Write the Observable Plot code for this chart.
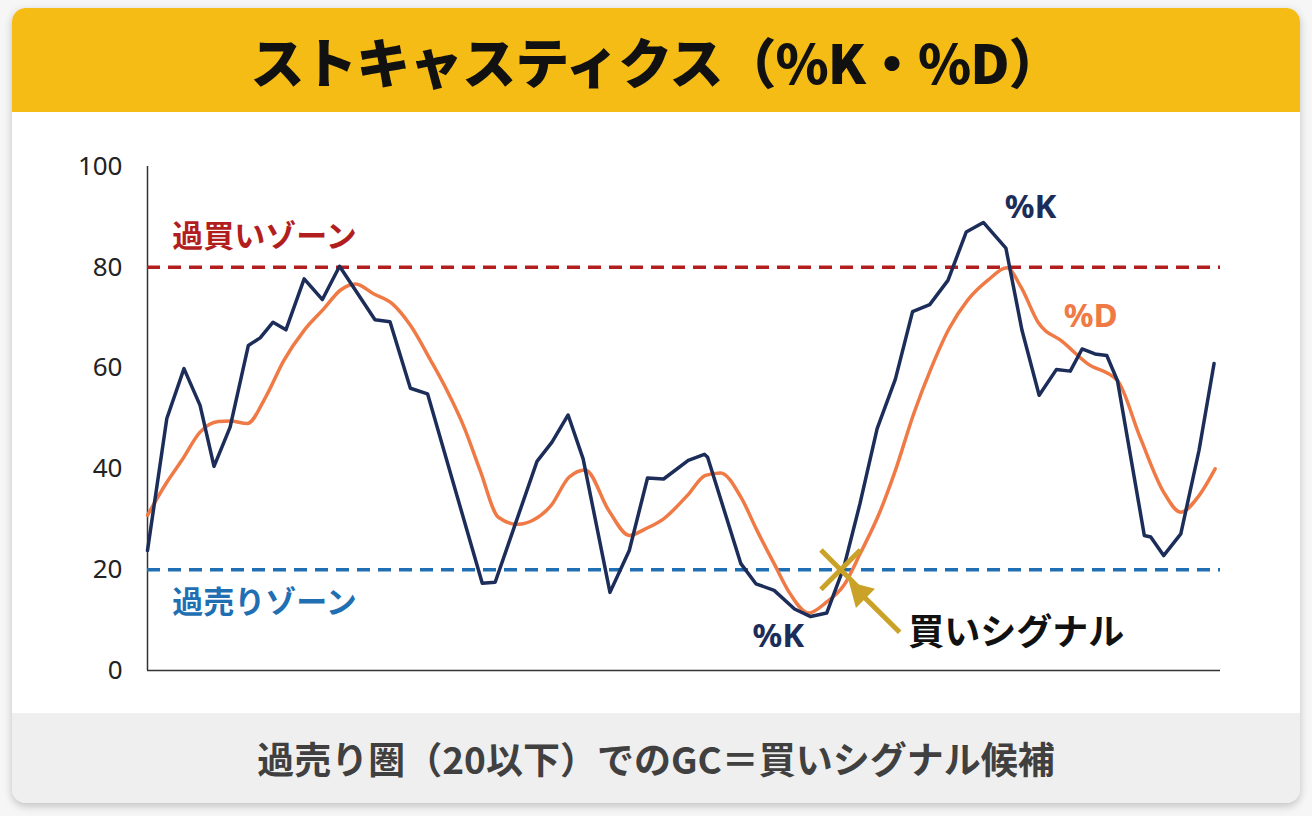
<!DOCTYPE html>
<html lang="ja">
<head>
<meta charset="utf-8">
<script src="https://cdn.jsdelivr.net/npm/d3@7"></script>
<script src="https://cdn.jsdelivr.net/npm/@observablehq/plot@0.6"></script>
<style>
  html, body { margin: 0; padding: 0; background: #f6f6f6; }
  body { width: 1312px; height: 816px; position: relative; overflow: hidden; font-family: "Noto Sans CJK JP", "Noto Sans", sans-serif; }
  .card {
    position: absolute; left: 12px; top: 8px; width: 1288px; height: 795px;
    background: #ffffff; border-radius: 14px; overflow: hidden;
    box-shadow: 0 3px 8px rgba(0,0,0,0.22);
  }
  .title {
    position: absolute; left: 0; top: 0; width: 100%; height: 104px;
    background: #F5BC16; display: flex; align-items: center; justify-content: center;
    font-size: 54px; font-weight: 900; color: #111; letter-spacing: -1px;
  }
  .footer {
    position: absolute; left: 0; top: 705px; width: 100%; height: 90px;
    background: #efefef; display: flex; align-items: center; justify-content: center;
    font-size: 37px; font-weight: 700; color: #404040;
  }
  #chart { position: absolute; left: 0; top: 104px; }
</style>
</head>
<body>
<div class="card">
  <div class="title">ストキャスティクス（%K・%D）</div>
  <div id="chart"></div>
  <div class="footer">過売り圏（20以下）でのGC＝買いシグナル候補</div>
</div>
<script>
// %K (fast line): time position and value
const kTime = [0, 1.8, 3.4, 4.9, 6.2, 7.7, 9.4, 10.5, 11.7, 12.9, 14.6, 16.3, 17.9,
  21.2, 22.6, 24.5, 26.1, 31.2, 32.4, 36.3, 37.7, 39.2, 40.6, 43.1, 44.9, 46.6, 48.1,
  50.4, 51.9, 52.2, 55.3, 56.7, 58.4, 60.3, 61.8, 63.3, 64.9, 66.4, 68.0, 69.7, 71.3,
  72.9, 74.6, 76.3, 77.9, 80.0, 81.5, 83.1, 84.7, 86.0, 87.1, 88.3, 89.4, 90.4, 92.9,
  93.5, 94.7, 96.3, 98.0, 99.4];
const kValue = [23.8, 50, 59.9, 52.6, 40.5, 48.3, 64.5, 66, 69.1, 67.6, 77.7, 73.6, 80.2,
  69.6, 69.2, 56, 54.9, 17.3, 17.5, 41.5, 45.3, 50.7, 42, 15.5, 23.8, 38.2, 38,
  41.7, 42.9, 42.3, 21.2, 17.2, 15.9, 12.2, 10.7, 11.4, 20.5, 33.1, 48, 57.8, 71.2,
  72.6, 77.4, 87, 88.9, 83.8, 67.5, 54.6, 59.7, 59.4, 63.8, 62.8, 62.5, 57.5, 26.8,
  26.5, 22.8, 27.1, 43.7, 60.9];

// %D (slow line): time position and value
const dTime = [0, 1.7, 3.2, 4.9, 6.6, 7.7, 9.3, 11.0, 12.7, 14.6, 16.4, 18.0, 19.4,
  21.1, 22.8, 24.5, 26.4, 27.9, 29.5, 31.0, 32.7, 34.5, 36.0, 37.6, 39.3, 40.8, 43.0,
  44.9, 46.4, 48.1, 50.3, 52.0, 53.4, 55.3, 56.8, 58.4, 59.9, 61.6, 63.3, 64.9, 66.4,
  68.3, 69.7, 71.4, 73.0, 74.7, 76.4, 78.3, 80.1, 81.4, 83.0, 85.3, 87.6, 90.4, 92.5,
  94.7, 96.3, 98.0, 99.5];
const dValue = [30.8, 37, 41.7, 47.3, 49.4, 49.5, 49, 54.2, 61.5, 67.5, 71.7, 75.5, 76.7,
  74.7, 72.8, 68.5, 61.5, 55.6, 48.3, 39.7, 30.4, 29, 29.9, 32.7, 38.4, 39.8, 31.7,
  26.8, 28.1, 30.1, 34.7, 38.7, 39.2, 34.4, 27.8, 21.2, 15.2, 11.4, 13.6, 16.9, 23.1,
  31.7, 39.7, 50.9, 59.8, 67.8, 73.4, 77.4, 79.9, 76.1, 69.1, 65.2, 60.9, 57.5, 46.3,
  35.4, 31.4, 34.7, 40];

const yTicks = [0, 20, 40, 60, 80, 100];
const overbought = 80;
const oversold = 20;
const zoneNames = ["過買いゾーン", "過売りゾーン"];
const signalName = "買いシグナル";
const signalPoint = { t: 64.6, v: 20 };

const NAVY = "#1c2d5a";
const ORANGE = "#ef7a45";
const RED = "#b21e1e";
const BLUE = "#1f6fb2";
const GOLD = "#c9a227";

const kData = kTime.map((t, i) => ({ t, v: kValue[i] }));
const dData = dTime.map((t, i) => ({ t, v: dValue[i] }));

const zoneLabels = [
  { t: 2.3, v: 85.9, label: zoneNames[0], color: RED },
  { t: 2.3, v: 13.3, label: zoneNames[1], color: BLUE }
];
const lineLabels = [
  { t: 82.3, v: 91.9, label: "%K", color: NAVY },
  { t: 87.9, v: 70.2, label: "%D", color: ORANGE },
  { t: 58.8, v: 6.7, label: "%K", color: NAVY }
];

// pointer from the signal label up to the crossover
const pointerTail = { t: 70.1, v: 7.6 };
const pointerHead = { t: 66.4, v: 15.4 };

const chart = Plot.plot({
  width: 1288,
  height: 600,
  marginLeft: 135,
  marginRight: 80,
  marginTop: 54,
  marginBottom: 42,
  style: { fontFamily: "'Noto Sans', 'Noto Sans CJK JP', sans-serif", fontSize: "26px", color: "#222", background: "transparent" },
  x: { domain: [0, 100], axis: null },
  y: { domain: [0, 100], axis: null },
  marks: [
    Plot.axisY(yTicks, { tickSize: 0, tickPadding: 25, fontSize: 26, fill: "#222" }),
    Plot.ruleX([0], { stroke: "#333", strokeWidth: 1.5 }),
    Plot.ruleY([0], { stroke: "#333", strokeWidth: 1.5 }),
    Plot.ruleY([overbought], { stroke: RED, strokeWidth: 3.5, strokeDasharray: "13,8" }),
    Plot.ruleY([oversold], { stroke: BLUE, strokeWidth: 3.5, strokeDasharray: "13,8" }),
    Plot.text(zoneLabels, { x: "t", y: "v", text: "label", fill: "color", textAnchor: "start",
      fontSize: 31, fontWeight: 700, fontFamily: "'Noto Sans CJK JP', sans-serif" }),
    Plot.line(dData, { x: "t", y: "v", stroke: ORANGE, strokeWidth: 3.5, curve: "monotone-x" }),
    Plot.line(kData, { x: "t", y: "v", stroke: NAVY, strokeWidth: 3.5 }),
    Plot.text(lineLabels, { x: "t", y: "v", text: "label", fill: "color",
      fontSize: 33, fontWeight: 700, fontFamily: "'Noto Sans', sans-serif" }),
    Plot.dot([signalPoint], { x: "t", y: "v", symbol: "times", r: 18, stroke: GOLD, strokeWidth: 5 }),
    Plot.link([{ t1: pointerTail.t, v1: pointerTail.v, t2: pointerHead.t, v2: pointerHead.v }], {
      x1: "t1", y1: "v1", x2: "t2", y2: "v2", stroke: GOLD, strokeWidth: 5
    }),
    Plot.dot([pointerHead], { x: "t", y: "v", symbol: "triangle", r: 10, rotate: -45, fill: GOLD }),
    Plot.text([{ t: 70.9, v: 7.3, label: signalName }], { x: "t", y: "v", text: "label", textAnchor: "start",
      fill: "#111", fontSize: 36, fontWeight: 700, fontFamily: "'Noto Sans CJK JP', sans-serif" })
  ]
});

document.getElementById("chart").appendChild(chart);
</script>
</body>
</html>
